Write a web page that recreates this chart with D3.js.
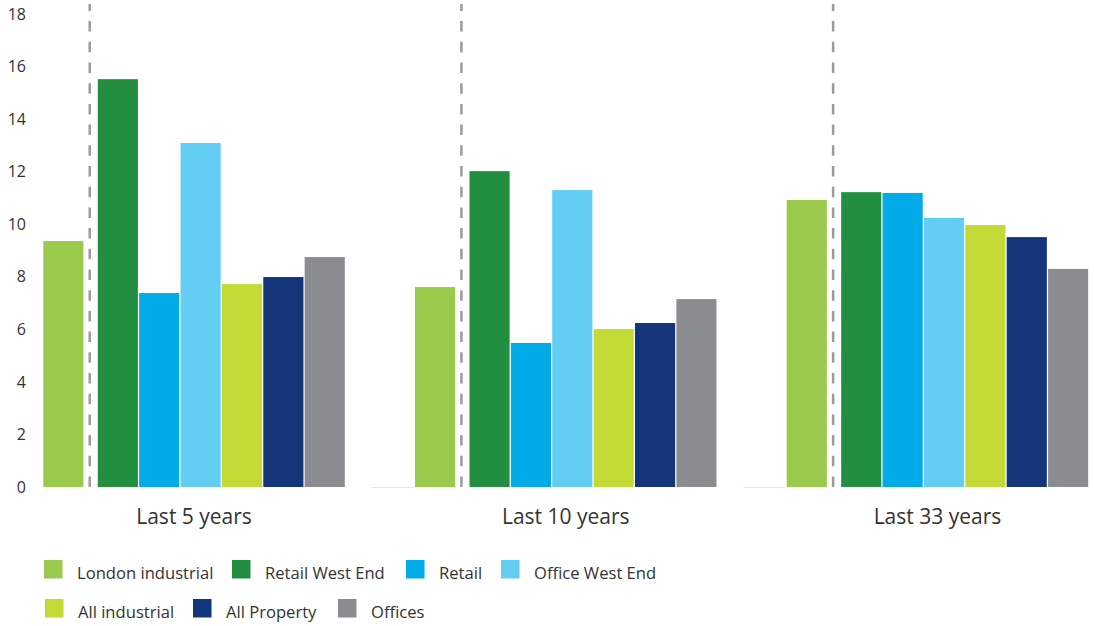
<!DOCTYPE html>
<html>
<head>
<meta charset="utf-8">
<script src="https://cdn.jsdelivr.net/npm/d3@7"></script>
<style>
  html, body { margin: 0; padding: 0; background: #fff; }
  svg { display: block; }
  text { font-family: "Open Sans", "Noto Sans", sans-serif; fill: #333; }
</style>
</head>
<body>
<svg id="chart" width="1094" height="626"></svg>
<script>
// Annualised returns by sector over three periods (%)
const periods = ["Last 5 years", "Last 10 years", "Last 33 years"];
const series = ["London industrial", "Retail West End", "Retail", "Office West End",
                "All industrial", "All Property", "Offices"];
const colors = ["#9aca4b", "#218f3f", "#00abe7", "#64cdf4", "#c2d936", "#13357a", "#8b8c90"];

const londonIndustrial = [9.36, 7.61, 10.92];
const retailWestEnd    = [15.52, 12.02, 11.22];
const retail           = [7.38, 5.48, 11.19];
const officeWestEnd    = [13.09, 11.30, 10.24];
const allIndustrial    = [7.72, 6.01, 9.97];
const allProperty      = [7.99, 6.24, 9.51];
const offices          = [8.75, 7.15, 8.30];
const seriesValues = [londonIndustrial, retailWestEnd, retail, officeWestEnd,
                      allIndustrial, allProperty, offices];

const yTicks = [0, 2, 4, 6, 8, 10, 12, 14, 16, 18];

const svg = d3.select("#chart");

// scales
const y = d3.scaleLinear().domain([0, 18]).range([487, 14]);
const groupStep = 371.7;
const x0 = d3.scaleBand().domain(periods)
  .range([43.3, 43.3 + groupStep * periods.length]).paddingInner(0).paddingOuter(0);
const barStep = 41.2;
const x1 = d3.scaleBand().domain(series)
  .range([0, barStep * series.length]).paddingInner(0.03).paddingOuter(0);
const dividerGap = 13.1;     // space left for the dashed separator after the first bar
const barX = (s, i) => x1(s) + (i > 0 ? dividerGap : 0);
const groupWidth = barX(series[series.length - 1], series.length - 1) + x1.bandwidth();

// y axis labels
const yAxis = d3.axisLeft(y).tickValues(yTicks).tickSize(0).tickPadding(0);
const yg = svg.append("g").attr("transform", "translate(26,0)").call(yAxis);
yg.select(".domain").remove();
yg.selectAll("text")
  .style("font-family", "'Open Sans', 'Noto Sans', sans-serif")
  .style("font-size", "16px").attr("fill", "#333").attr("dy", "0.32em");

// faint baseline stubs in the empty slot before each later period
svg.append("g").selectAll("line")
  .data(periods.slice(1))
  .join("line")
  .attr("x1", d => x0(d) - 43).attr("x2", d => x0(d) - 2)
  .attr("y1", y(0) + 0.5).attr("y2", y(0) + 0.5)
  .attr("stroke", "#e6e6e6").attr("stroke-width", 1);

// bars
const groups = svg.append("g").selectAll("g")
  .data(periods)
  .join("g")
  .attr("transform", d => `translate(${x0(d)},0)`);

groups.selectAll("rect")
  .data((p, pi) => series.map((s, si) => ({ s, si, v: seriesValues[si][pi] })))
  .join("rect")
  .attr("x", d => barX(d.s, d.si))
  .attr("width", x1.bandwidth())
  .attr("y", d => y(d.v))
  .attr("height", d => y(0) - y(d.v))
  .attr("fill", d => colors[d.si]);

// dashed separators
groups.append("line")
  .attr("x1", x1("Retail West End") + dividerGap / 2 - 1.5)
  .attr("x2", x1("Retail West End") + dividerGap / 2 - 1.5)
  .attr("y1", y(0))
  .attr("y2", 4)
  .attr("stroke", "#9b9b9d")
  .attr("stroke-width", 2.5)
  .attr("stroke-dasharray", "10.5,10.2");

// period labels
groups.append("text")
  .attr("x", groupWidth / 2)
  .attr("y", 524)
  .attr("text-anchor", "middle")
  .style("font-size", "21px")
  .text(d => d);

// legend
const legendRows = [
  [{ i: 0, x: 44 }, { i: 1, x: 232 }, { i: 2, x: 406 }, { i: 3, x: 501 }],
  [{ i: 4, x: 45 }, { i: 5, x: 193 }, { i: 6, x: 338 }]
];
const rowY = [560, 599];
const legend = svg.append("g");
legendRows.forEach((row, r) => {
  const items = legend.append("g").selectAll("g")
    .data(row).join("g")
    .attr("transform", d => `translate(${d.x},${rowY[r]})`);
  items.append("rect")
    .attr("width", 18.5).attr("height", 18.5)
    .attr("fill", d => colors[d.i]);
  items.append("text")
    .attr("x", 33).attr("y", 18.8)
    .style("font-size", "16.6px")
    .text(d => series[d.i]);
});
</script>
</body>
</html>
